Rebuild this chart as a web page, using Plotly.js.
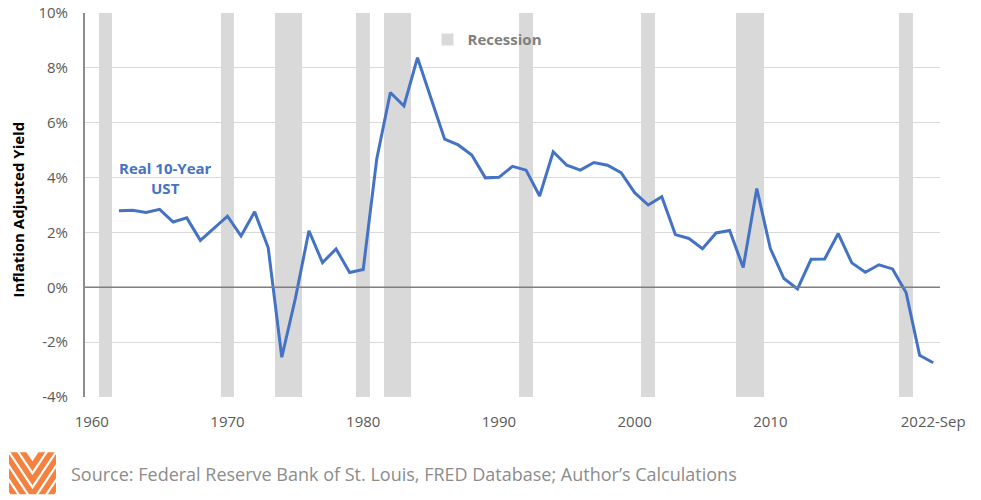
<!DOCTYPE html>
<html>
<head>
<meta charset="utf-8">
<script src="https://cdn.plot.ly/plotly-3.0.1.min.js"></script>
<style>
  html, body { margin: 0; padding: 0; background: #fff; }
  #chart { width: 981px; height: 500px; }
</style>
</head>
<body>
<div id="chart"></div>
<script>
// Real (inflation adjusted) 10-year UST yield, % — annual, last point 2022-Sep
const years = [
  1962, 1963, 1964, 1965, 1966, 1967, 1968, 1969, 1970, 1971,
  1972, 1973, 1974, 1975, 1976, 1977, 1978, 1979, 1980, 1981,
  1982, 1983, 1984, 1985, 1986, 1987, 1988, 1989, 1990, 1991,
  1992, 1993, 1994, 1995, 1996, 1997, 1998, 1999, 2000, 2001,
  2002, 2003, 2004, 2005, 2006, 2007, 2008, 2009, 2010, 2011,
  2012, 2013, 2014, 2015, 2016, 2017, 2018, 2019, 2020, 2021,
  2022
];
const realYield = [
  2.79, 2.81, 2.73, 2.84, 2.38, 2.53, 1.71, 2.14, 2.59, 1.87,
  2.75, 1.44, -2.55, -0.41, 2.06, 0.90, 1.40, 0.54, 0.65, 4.69,
  7.10, 6.61, 8.37, 6.88, 5.40, 5.19, 4.82, 3.99, 4.01, 4.41,
  4.27, 3.33, 4.94, 4.45, 4.27, 4.55, 4.45, 4.18, 3.45, 3.00,
  3.30, 1.92, 1.78, 1.41, 1.98, 2.07, 0.72, 3.60, 1.41, 0.32,
  -0.06, 1.02, 1.03, 1.96, 0.89, 0.55, 0.82, 0.67, -0.19, -2.48,
  -2.75
];

// years shaded as recession
const recessionYears = [1961, 1970, 1974, 1975, 1980, 1982, 1983, 1992, 2001, 2008, 2009, 2020];

// axis ticks
const xTickVals = [1960, 1970, 1980, 1990, 2000, 2010, 2022];
const xTickText = ['1960', '1970', '1980', '1990', '2000', '2010', '2022-Sep'];
const yTickVals = [-4, -2, 0, 2, 4, 6, 8, 10];
const yTickText = ['-4%', '-2%', '0%', '2%', '4%', '6%', '8%', '10%'];

const yRange = [-4, 10];
const xRange = [1959.5, 2022.5];

// small chevron logo, bottom left
function logoSvg() {
  let vs = '';
  [14, 28, 42, 56, 70].forEach(v => {
    const dx = 40, dy = dx * 1.5;
    vs += `<polyline points="${23.5 - dx},${v - dy} 23.5,${v} ${23.5 + dx},${v - dy}" fill="none" stroke="#F5813F" stroke-width="5.6"/>`;
  });
  const svg = `<svg xmlns="http://www.w3.org/2000/svg" width="47" height="42" viewBox="0 0 47 42">` +
    `<defs><clipPath id="c"><rect x="0" y="0" width="47" height="42"/></clipPath></defs>` +
    `<g clip-path="url(#c)">${vs}</g></svg>`;
  return 'data:image/svg+xml;charset=utf-8,' + encodeURIComponent(svg);
}

const recessionTrace = {
  type: 'bar',
  name: 'Recession',
  x: recessionYears,
  y: recessionYears.map(() => yRange[1] - yRange[0]),
  base: yRange[0],
  width: 1,
  marker: { color: '#d9d9d9', line: { width: 0 } },
  hoverinfo: 'skip',
  showlegend: true
};

const yieldTrace = {
  type: 'scatter',
  mode: 'lines',
  name: 'Real 10-Year UST',
  x: years,
  y: realYield,
  line: { color: '#4472C4', width: 3 },
  showlegend: false
};

const tickFont = { family: 'Open Sans, sans-serif', size: 15, color: '#595959' };

const layout = {
  width: 981,
  height: 500,
  margin: { l: 85, r: 41, t: 13, b: 103 },
  paper_bgcolor: '#ffffff',
  plot_bgcolor: '#ffffff',
  bargap: 0,
  hovermode: false,
  xaxis: {
    range: xRange,
    tickmode: 'array',
    tickvals: xTickVals,
    ticktext: xTickText,
    showgrid: false,
    zeroline: false,
    showline: false,
    ticks: '',
    ticklabelstandoff: 14,
    tickfont: tickFont
  },
  yaxis: {
    range: yRange,
    tickmode: 'array',
    tickvals: yTickVals,
    ticktext: yTickText,
    showgrid: true,
    gridcolor: '#d9d9d9',
    gridwidth: 1,
    zeroline: false,
    showline: true,
    linecolor: '#8c8c8c',
    linewidth: 2,
    ticks: '',
    ticklabelstandoff: 12,
    tickfont: tickFont
  },
  legend: {
    x: 0.4006,
    y: 0.973,
    xanchor: 'left',
    yanchor: 'top',
    bgcolor: 'rgba(0,0,0,0)',
    font: { family: 'Open Sans, sans-serif', size: 15, color: '#7f7f7f', weight: 'bold' }
  },
  shapes: [
    {
      type: 'line', xref: 'paper', yref: 'y',
      x0: 0, x1: 1, y0: 0, y1: 0,
      line: { color: '#7f7f7f', width: 1.5 },
      layer: 'above'
    }
  ],
  annotations: [
    {
      text: 'Inflation Adjusted Yield',
      xref: 'paper', yref: 'paper',
      x: -0.0784, y: 0.488,
      xanchor: 'center', yanchor: 'middle',
      textangle: -90,
      showarrow: false,
      font: { family: 'Open Sans, sans-serif', size: 15, color: '#000000', weight: 'bold' }
    },
    {
      text: 'Real 10-Year<br>UST',
      xref: 'x', yref: 'y',
      x: 1965.4, y: 4.0,
      xanchor: 'center', yanchor: 'middle',
      showarrow: false,
      font: { family: 'Open Sans, sans-serif', size: 15, color: '#4472C4', weight: 'bold' }
    },
    {
      text: 'Source: Federal Reserve Bank of St. Louis, FRED Database; Author\u2019s Calculations',
      xref: 'paper', yref: 'paper',
      x: -0.019, y: -0.2,
      xanchor: 'left', yanchor: 'middle',
      showarrow: false,
      font: { family: 'Open Sans, sans-serif', size: 18, color: '#8c8c8c' }
    }
  ],
  images: [
    {
      source: logoSvg(),
      xref: 'paper', yref: 'paper',
      x: -0.0889, y: -0.144,
      sizex: 47 / 855, sizey: 42 / 384,
      xanchor: 'left', yanchor: 'top',
      sizing: 'stretch',
      layer: 'above'
    }
  ]
};

Plotly.newPlot('chart', [recessionTrace, yieldTrace], layout, { displayModeBar: false, staticPlot: true });
</script>
</body>
</html>
